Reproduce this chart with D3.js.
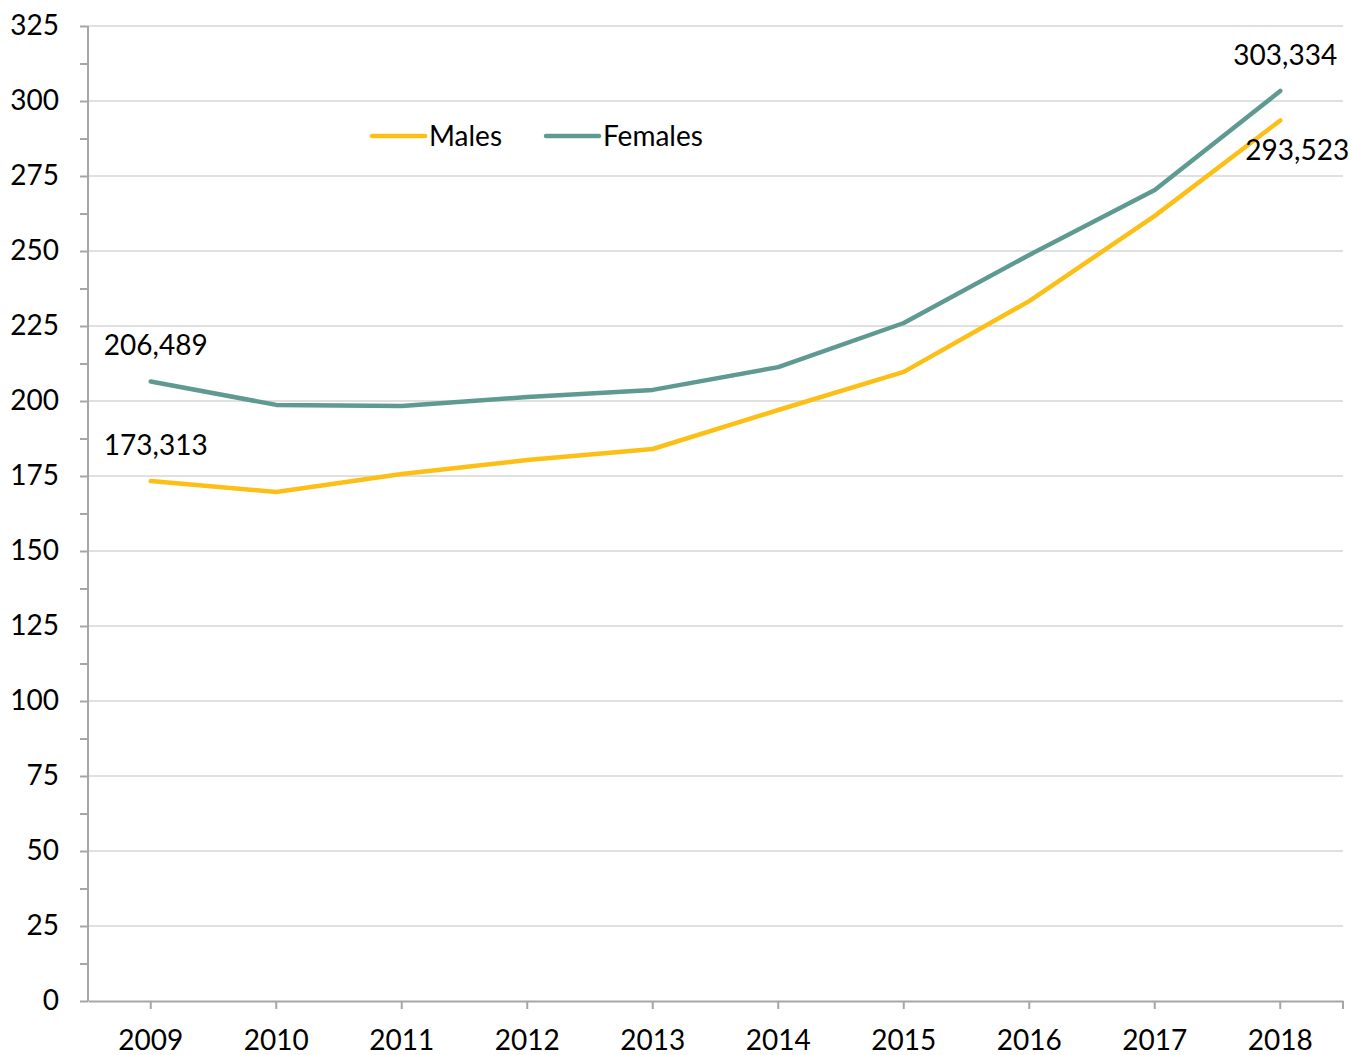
<!DOCTYPE html>
<html>
<head>
<meta charset="utf-8">
<script src="https://cdn.jsdelivr.net/npm/d3@7"></script>
<style>
  body { margin: 0; background: #fff; }
  svg text { font-family: "Lato", "DejaVu Sans", sans-serif; fill: #000; }
</style>
</head>
<body>
<svg id="chart" width="1353" height="1055"></svg>
<script>
let years = ["2009", "2010", "2011", "2012", "2013", "2014", "2015", "2016", "2017", "2018"];
let males = [173.313, 169.7, 175.7, 180.3, 184.0, 197.0, 209.7, 233.3, 261.7, 293.523];
let females = [206.489, 198.7, 198.3, 201.3, 203.7, 211.3, 226.0, 248.7, 270.3, 303.334];
let yTicks = [0, 25, 50, 75, 100, 125, 150, 175, 200, 225, 250, 275, 300, 325];
let seriesNames = ["Males", "Females"];
let seriesColors = ["#fbbf16", "#5e9a91"];
// end-point labels: [series index, year index, text]
let pointLabels = [
    [1, 0, "206,489"],
    [0, 0, "173,313"],
    [1, 9, "303,334"],
    [0, 9, "293,523"]
];

drawChart();

function drawChart() {
    let svg = d3.select("#chart");
    let left = 88, right = 1343, top = 26, bottom = 1001;
    let fontSize = 28;

    let x = d3.scaleBand().domain(years).range([left, right]);
    let y = d3.scaleLinear().domain([0, 325]).range([bottom, top]);
    let cx = function (yr) { return x(yr) + x.bandwidth() / 2; };

    // gridlines
    svg.append("g").selectAll("line").data(yTicks.filter(d => d > 0))
        .enter().append("line")
        .attr("x1", left).attr("x2", right)
        .attr("y1", d => y(d)).attr("y2", d => y(d))
        .attr("stroke", "#e0e0e0").attr("stroke-width", 2);

    // y axis with minor ticks
    let minor = d3.range(0, 326, 12.5);
    let yAxis = d3.axisLeft(y).tickValues(minor).tickSize(8)
        .tickFormat(d => yTicks.includes(d) ? d : "");
    let gy = svg.append("g").attr("transform", "translate(" + left + ",0)").call(yAxis);
    gy.select(".domain").attr("stroke", "#a6a6a6").attr("stroke-width", 2).attr("d", "M0," + top + "V" + bottom);
    gy.selectAll(".tick line").attr("stroke", "#a6a6a6").attr("stroke-width", 2);
    gy.selectAll(".tick text").attr("x", -29).attr("font-size", fontSize).attr("font-family", null);

    // x axis
    let xAxis = d3.axisBottom(x).tickSize(8).tickSizeOuter(0);
    let gx = svg.append("g").attr("transform", "translate(0," + bottom + ")").call(xAxis);
    gx.select(".domain").attr("stroke", "#a6a6a6").attr("stroke-width", 2);
    gx.selectAll(".tick line").attr("stroke", "#a6a6a6").attr("stroke-width", 2);
    gx.selectAll(".tick text").attr("y", 29).attr("dy", "0.71em").attr("font-size", fontSize).attr("font-family", null);
    gx.append("line").attr("x1", right).attr("x2", right).attr("y1", 0).attr("y2", 8)
        .attr("stroke", "#a6a6a6").attr("stroke-width", 2);

    // lines
    let line = d3.line().x((d, i) => cx(years[i])).y(d => y(d));
    [males, females].forEach(function (data, s) {
        svg.append("path").datum(data)
            .attr("d", line)
            .attr("fill", "none")
            .attr("stroke", seriesColors[s])
            .attr("stroke-width", 4.5)
            .attr("stroke-linecap", "round")
            .attr("stroke-linejoin", "round");
    });

    // point labels
    let series = [males, females];
    let offsets = {"1,0": [5, -36], "0,0": [5, -36], "1,9": [5, -36], "0,9": [17, 30]};
    pointLabels.forEach(function (p) {
        let off = offsets[p[0] + "," + p[1]];
        svg.append("text")
            .attr("x", cx(years[p[1]]) + off[0])
            .attr("y", y(series[p[0]][p[1]]) + off[1])
            .attr("text-anchor", "middle")
            .attr("dy", "0.35em")
            .attr("font-size", fontSize)
            .text(p[2]);
    });

    // legend
    let legendX = [372, 546];
    seriesNames.forEach(function (name, s) {
        let g = svg.append("g").attr("transform", "translate(" + legendX[s] + ",136)");
        g.append("line").attr("x1", 0).attr("x2", 53).attr("y1", 0).attr("y2", 0)
            .attr("stroke", seriesColors[s]).attr("stroke-width", 4.5).attr("stroke-linecap", "round");
        g.append("text").attr("x", 57).attr("dy", "0.35em").attr("font-size", fontSize).text(name);
    });
}
</script>
</body>
</html>
